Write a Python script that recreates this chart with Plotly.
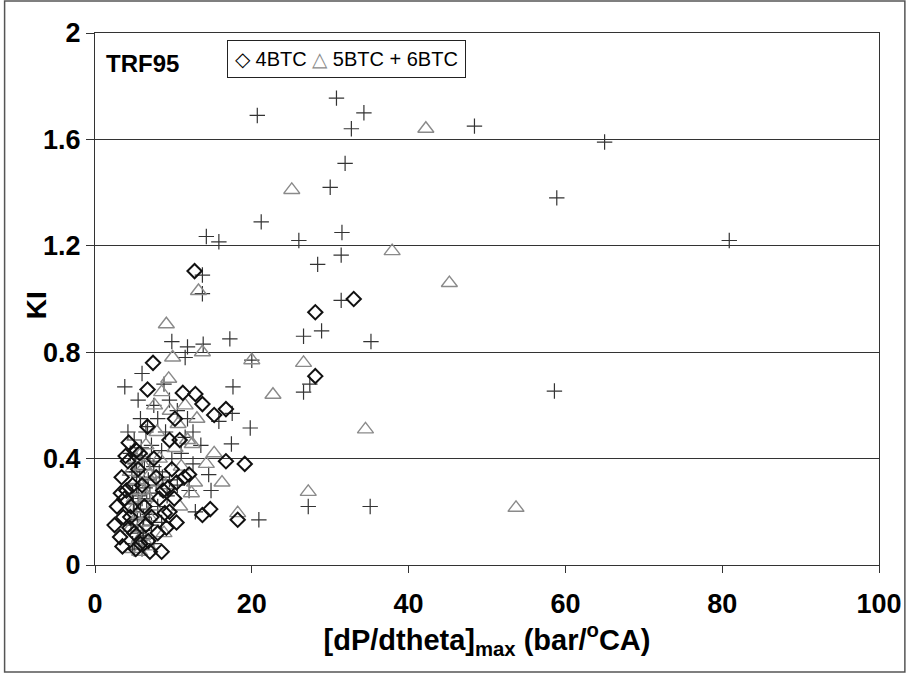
import plotly.graph_objects as go

# 4BTC (diamonds)
x4 = [12.7, 33.0, 28.1, 28.1, 7.4, 6.7, 11.2, 12.8, 13.7, 15.2, 16.7, 6.7, 10.8, 16.7, 19.1,
      11.4, 10.4, 9.3, 8.2, 10.1, 9.5, 8.9, 10.4, 9.1, 7.0, 8.5, 13.7, 14.7, 18.2, 3.4,
      2.8, 2.5, 3.2, 3.5, 4.2, 4.0, 4.5, 5.0, 5.5, 6.0, 6.3, 5.7, 7.5, 7.8, 4.3,
      3.8, 6.8, 5.2, 8.0, 9.8, 12.0, 4.8, 3.6, 6.5, 10.2, 9.5, 5.8, 4.6,
      3.9, 4.4, 3.3, 5.3, 7.2, 8.7]
y4 = [1.105, 1.00, 0.95, 0.71, 0.76, 0.66, 0.647, 0.643, 0.605, 0.564, 0.586, 0.52, 0.47, 0.39, 0.38,
      0.33, 0.31, 0.29, 0.25, 0.25, 0.20, 0.195, 0.16, 0.14, 0.05, 0.05, 0.188, 0.21, 0.17, 0.33,
      0.22, 0.15, 0.105, 0.07, 0.39, 0.28, 0.18, 0.12, 0.36, 0.30, 0.22, 0.42, 0.40, 0.33, 0.46,
      0.25, 0.09, 0.06, 0.12, 0.36, 0.34, 0.30, 0.18, 0.15, 0.55, 0.47, 0.08, 0.22,
      0.41, 0.14, 0.27, 0.43, 0.18, 0.28]

# 5BTC (triangles)
x5 = [42.2, 25.1, 37.9, 45.2, 13.2, 9.1, 9.9, 13.7, 20.0, 26.6, 22.7, 34.5, 12.4, 15.2, 14.2,
      16.2, 12.7, 12.3, 18.2, 27.2, 53.7, 7.9, 10.6, 11.5, 8.5, 9.6, 10.2, 8.2, 6.5, 11.0,
      7.0, 9.0, 5.8, 7.5, 6.2, 8.8, 5.5, 4.8, 6.8, 10.8, 5.2, 4.5, 11.8, 13.0, 7.6, 9.4,
      5.0, 5.6, 6.3, 4.6, 5.9, 6.6, 5.3, 4.9, 6.1, 7.3, 5.7, 6.9]
y5 = [1.64, 1.41, 1.18, 1.06, 1.03, 0.905, 0.78, 0.80, 0.77, 0.76, 0.64, 0.51, 0.455, 0.42, 0.38,
      0.31, 0.31, 0.27, 0.195, 0.275, 0.215, 0.50, 0.53, 0.60, 0.65, 0.58, 0.44, 0.40, 0.45, 0.37,
      0.34, 0.30, 0.28, 0.22, 0.16, 0.12, 0.09, 0.06, 0.07, 0.22, 0.40, 0.35, 0.47, 0.55, 0.60, 0.70,
      0.25, 0.19, 0.37, 0.14, 0.42, 0.26, 0.32, 0.21, 0.11, 0.31, 0.05, 0.18]

# 6BTC (crosses)
x6 = [20.7, 30.8, 34.3, 32.7, 48.4, 65.0, 58.9, 80.9, 58.6, 31.9, 30.0, 21.2, 31.5, 31.4, 26.0,
      14.2, 15.8, 28.4, 31.4, 13.7, 13.7, 28.9, 26.6, 35.2, 17.2, 13.8, 11.8, 11.5, 20.0, 17.6,
      26.6, 27.4, 19.8, 17.4, 20.9, 27.2, 35.1, 3.8, 9.8, 17.5, 15.8, 6.0, 5.5, 7.5, 8.8,
      9.5, 10.5, 11.8, 12.5, 13.5, 8.0, 6.5, 5.0, 4.5, 6.0, 7.2, 8.5, 9.8, 11.0, 12.5,
      5.3, 6.8, 8.2, 9.5, 10.5, 4.8, 6.0, 7.0, 8.0, 9.2, 5.0, 6.2, 7.2, 5.5, 6.5,
      4.8, 7.5, 6.0, 5.3, 4.2, 9.0, 11.5, 7.5, 5.8, 14.5, 12.0, 8.5, 12.8, 14.8,
      5.1, 5.7, 6.4, 4.9, 5.4, 6.1, 5.8, 4.7, 5.2, 6.6, 5.6, 6.3, 4.6, 5.9, 6.9,
      5.0, 5.5, 6.2, 7.8, 8.6, 7.0, 6.7]
y6 = [1.69, 1.755, 1.70, 1.64, 1.65, 1.59, 1.38, 1.22, 0.654, 1.51, 1.42, 1.29, 1.25, 1.165, 1.22,
      1.235, 1.215, 1.13, 0.995, 1.09, 1.02, 0.88, 0.86, 0.84, 0.85, 0.83, 0.82, 0.78, 0.77, 0.67,
      0.65, 0.68, 0.515, 0.455, 0.17, 0.22, 0.22, 0.67, 0.84, 0.57, 0.54, 0.72, 0.62, 0.60, 0.68,
      0.62, 0.58, 0.55, 0.50, 0.45, 0.55, 0.50, 0.47, 0.42, 0.40, 0.45, 0.43, 0.40, 0.42, 0.38,
      0.35, 0.32, 0.35, 0.32, 0.30, 0.27, 0.25, 0.27, 0.22, 0.26, 0.20, 0.18, 0.15, 0.12, 0.10,
      0.08, 0.08, 0.06, 0.30, 0.50, 0.50, 0.48, 0.37, 0.55, 0.34, 0.28, 0.16, 0.20, 0.28,
      0.38, 0.33, 0.29, 0.23, 0.17, 0.13, 0.21, 0.35, 0.41, 0.24, 0.09, 0.36, 0.15, 0.44, 0.19,
      0.06, 0.26, 0.11, 0.30, 0.33, 0.39, 0.52]

series_names = ["4BTC", "5BTC", "6BTC"]
legend_glyphs = ["\u25C7", "\u25B3", "+"]
x_ticks = [0, 20, 40, 60, 80, 100]
y_ticks = [0, 0.4, 0.8, 1.2, 1.6, 2]

FONT = "Arial, Liberation Sans, sans-serif"
C4, C5, C6 = "#111", "#8a8a8a", "#333"

fig = go.Figure()
fig.add_trace(go.Scatter(x=x6, y=y6, mode="markers", name=series_names[2],
                         marker=dict(symbol="cross-thin", size=11, color=C6,
                                     line=dict(color=C6, width=1.2))))
fig.add_trace(go.Scatter(x=x5, y=y5, mode="markers", name=series_names[1],
                         marker=dict(symbol="triangle-up-open", size=14, color=C5,
                                     line=dict(color=C5, width=1.4))))
fig.add_trace(go.Scatter(x=x4, y=y4, mode="markers", name=series_names[0],
                         marker=dict(symbol="diamond-open", size=11, color=C4,
                                     line=dict(color=C4, width=2))))

legend_text = " ".join(
    f"<span style='color:{c}'>{g}</span> {n}"
    for g, n, c in zip(legend_glyphs, series_names, ["#000", C5, "#000"])
)

fig.update_layout(
    width=914, height=676,
    margin=dict(l=95, r=30, t=33, b=111),
    paper_bgcolor="white", plot_bgcolor="white",
    font=dict(family=FONT, color="black"),
    showlegend=False,
    xaxis=dict(range=[0, 100], tickvals=x_ticks, showgrid=False, zeroline=False,
               showline=True, linecolor="#333", linewidth=1, mirror=True,
               ticks="outside", ticklen=7, tickcolor="#333",
               tickfont=dict(family=FONT, size=27, weight="bold"),
               ticklabelstandoff=8,
               title=dict(text="[dP/dtheta]<sub>max</sub> (bar/<sup>o</sup>CA)",
                          font=dict(family=FONT, size=29, weight="bold"), standoff=0)),
    yaxis=dict(range=[0, 2], tickvals=y_ticks, showgrid=True, gridcolor="#333", gridwidth=1,
               zeroline=False, showline=True, linecolor="#333", linewidth=1, mirror=True,
               ticks="outside", ticklen=8, tickcolor="#333",
               tickfont=dict(family=FONT, size=27, weight="bold")),
    annotations=[
        dict(text="TRF95", x=0.061, y=0.9436, xref="paper", yref="paper",
             xanchor="center", yanchor="middle",
             showarrow=False, font=dict(family=FONT, size=24, weight="bold")),
        dict(text=legend_text, x=0.3207, y=0.952, xref="paper", yref="paper",
             xanchor="center", yanchor="middle", showarrow=False,
             bordercolor="#222", borderwidth=1, borderpad=7, bgcolor="white",
             font=dict(family=FONT, size=20, color="black")),
        dict(text="KI", x=-0.0748, y=0.489, xref="paper", yref="paper",
             xanchor="center", yanchor="middle", textangle=-90,
             showarrow=False, font=dict(family=FONT, size=28, weight="bold")),
    ],
    shapes=[dict(type="rect", xref="paper", yref="paper", x0=-0.1153, x1=1.033,
                 y0=-0.201, y1=1.060, line=dict(color="#555", width=1.5))],
)

fig.write_html("out.html")
